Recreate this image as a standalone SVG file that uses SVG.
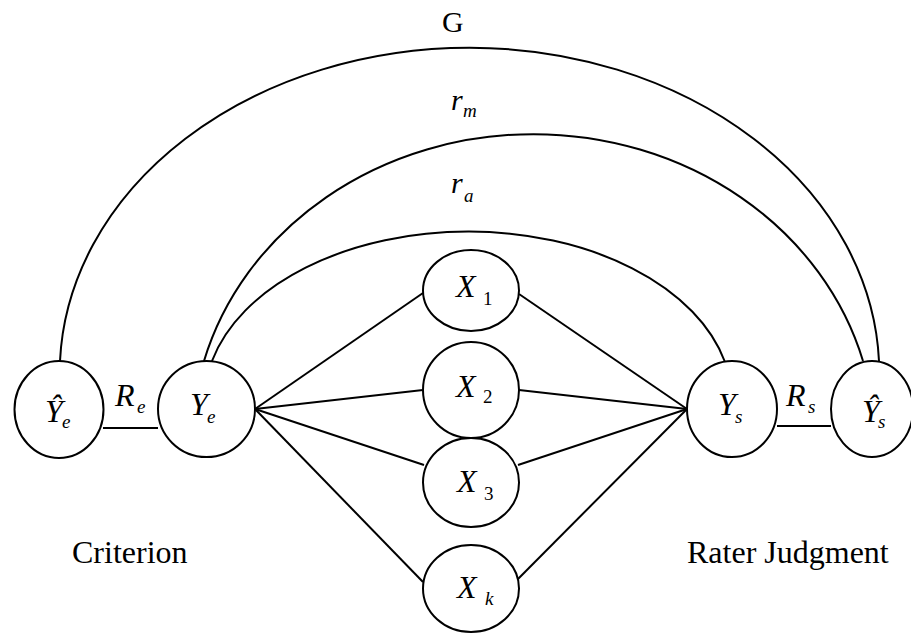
<svg xmlns="http://www.w3.org/2000/svg" width="911" height="633" viewBox="0 0 911 633">
<style>
.n{fill:#fff;stroke:#000;stroke-width:2}
.c{fill:none;stroke:#000;stroke-width:2}
text{font-family:"Liberation Serif","Times New Roman",serif;fill:#000}
.m{font-size:32px;font-style:italic}
.s{font-size:19px;font-style:italic}
.u{font-size:19px}
.p{font-size:32px}
</style>
<rect width="911" height="633" fill="#fff"/>
<g id="connectors">
<path class="c" d="M60 361 A409.8 325.7 0 0 1 879 361"/>
<path class="c" d="M204 361 A341.5 307.7 0 0 1 863 361"/>
<path class="c" d="M212 361 A263.8 169.5 0 0 1 725 362"/>
<line class="c" x1="103" y1="428" x2="158" y2="428"/>
<line class="c" x1="777" y1="426" x2="831" y2="426"/>
<line class="c" x1="255" y1="409" x2="423" y2="293"/>
<line class="c" x1="255" y1="409" x2="423" y2="390"/>
<line class="c" x1="255" y1="409" x2="424" y2="465"/>
<line class="c" x1="255" y1="409" x2="423" y2="582"/>
<line class="c" x1="519" y1="294" x2="687" y2="409"/>
<line class="c" x1="519" y1="390" x2="687" y2="409"/>
<line class="c" x1="518" y1="465" x2="687" y2="409"/>
<line class="c" x1="517" y1="580" x2="687" y2="409"/>
</g>
<g id="labels" font-family="Liberation Serif, Times New Roman, serif">
<text class="p" x="442" y="32" style="font-size:30px">G</text>
<text class="m" x="451" y="110" style="font-size:30px">r</text><text class="s" x="463" y="117">m</text>
<text class="m" x="451" y="193" style="font-size:30px">r</text><text class="s" x="464" y="202">a</text>
<text class="m" x="115" y="406">R</text><text class="s" x="137" y="413">e</text>
<text class="m" x="786" y="406">R</text><text class="s" x="808" y="413">s</text>
<text class="p" x="72" y="563">Criterion</text>
<text class="p" x="687" y="563">Rater Judgment</text>
</g>
<g id="Yhat_e">
<ellipse class="n" cx="59" cy="409.5" rx="44.5" ry="48.5"/>
<text class="m" x="45" y="422">Ŷ</text><text class="s" x="62" y="428">e</text>
</g>
<g id="Y_e">
<ellipse class="n" cx="206.5" cy="409" rx="48.5" ry="48"/>
<text class="m" x="190" y="415">Y</text><text class="s" x="207" y="423">e</text>
</g>
<g id="X_1">
<ellipse class="n" cx="471" cy="290.5" rx="48" ry="40.5"/>
<text class="m" x="456" y="297">X</text><text class="u" x="483" y="305">1</text>
</g>
<g id="X_2">
<ellipse class="n" cx="471" cy="390" rx="48" ry="48"/>
<text class="m" x="456" y="397">X</text><text class="u" x="483" y="403">2</text>
</g>
<g id="X_3">
<ellipse class="n" cx="471" cy="482.5" rx="48" ry="44.5"/>
<text class="m" x="457" y="492">X</text><text class="u" x="484" y="500">3</text>
</g>
<g id="X_k">
<ellipse class="n" cx="471" cy="588.5" rx="48" ry="43.5"/>
<text class="m" x="457" y="598">X</text><text class="s" x="485" y="605">k</text>
</g>
<g id="Y_s">
<ellipse class="n" cx="732" cy="409" rx="45" ry="48"/>
<text class="m" x="718" y="415">Y</text><text class="s" x="735" y="423">s</text>
</g>
<g id="Yhat_s">
<ellipse class="n" cx="872" cy="409" rx="41" ry="48"/>
<text class="m" x="862" y="422">Ŷ</text><text class="s" x="878" y="428">s</text>
</g>
</svg>
